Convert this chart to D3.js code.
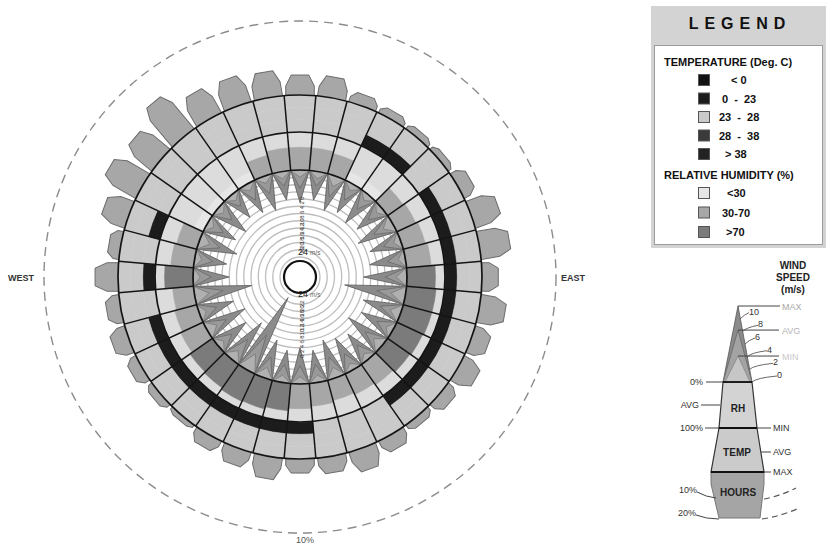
<!DOCTYPE html>
<html>
<head>
<meta charset="utf-8">
<script src="https://cdn.jsdelivr.net/npm/d3@7"></script>
<style>
  body { margin: 0; background: #fff; }
  svg text { font-family: "Liberation Sans", Arial, sans-serif; }
</style>
</head>
<body>
<div id="canvas"></div>
<script>
// one entry per 10 degree sector, clockwise from north
const directions = [0, 10, 20, 30, 40, 50, 60, 70, 80, 90, 100, 110, 120, 130, 140, 150, 160, 170,
  180, 190, 200, 210, 220, 230, 240, 250, 260, 270, 280, 290, 300, 310, 320, 330, 340, 350];
// share of hours (%)
const hours = [2.7, 2.8, 1.5, 1.1, 0.9, 0.9, 1.9, 3.8, 4.1, 2.2, 3.5, 2.4, 2.8, 1.8, 1.1, 2.0, 3.0, 2.2,
  1.9, 3.0, 2.3, 1.8, 0.7, 1.1, 1.6, 2.3, 1.9, 3.1, 1.6, 3.5, 5.1, 4.6, 6.2, 4.1, 3.9, 3.5];
// wind speed (m/s)
const windMax = [9, 8, 10, 9, 10, 9, 11, 9, 10, 12, 17, 11, 10, 12, 9, 10, 11, 9,
  10, 9, 11, 23, 13, 10, 12, 10, 16, 10, 9, 11, 9, 10, 8, 9, 10, 8];
const windAvg = [5, 4, 6, 5, 5, 5, 6, 5, 5, 6, 8, 6, 5, 6, 5, 5, 6, 5,
  5, 5, 6, 11, 7, 5, 6, 5, 8, 5, 5, 6, 5, 5, 4, 5, 5, 4];
const windMin = [2, 2, 3, 2, 2, 2, 3, 2, 2, 3, 4, 3, 2, 3, 2, 2, 3, 2,
  2, 2, 3, 5, 3, 2, 3, 2, 4, 2, 2, 3, 2, 2, 2, 2, 2, 2];
// average relative humidity (%)
const rhAvg = [60, 60, 55, 25, 25, 50, 55, 60, 65, 75, 78, 78, 75, 72, 65, 60, 55, 60,
  65, 72, 78, 80, 75, 72, 65, 60, 55, 75, 60, 55, 25, 20, 20, 25, 50, 60];
// temperature class index (into tempClasses) for min / avg / max
const tempMin = [2, 2, 2, 1, 1, 2, 1, 1, 1, 1, 1, 1, 1, 1, 1, 2, 2, 2,
  1, 1, 1, 1, 1, 1, 1, 1, 2, 1, 2, 1, 2, 2, 2, 2, 2, 2];
const tempAvg = [2, 2, 2, 2, 2, 2, 2, 2, 2, 2, 2, 2, 2, 2, 2, 2, 2, 2,
  2, 2, 2, 2, 2, 2, 2, 2, 2, 2, 2, 2, 2, 2, 2, 2, 2, 2];
const tempMax = [2, 2, 2, 2, 2, 2, 2, 2, 2, 2, 2, 2, 2, 2, 2, 2, 2, 2,
  2, 2, 2, 2, 2, 2, 2, 2, 2, 2, 2, 2, 2, 2, 2, 2, 2, 2];
const tempClasses = ["< 0", "0  -  23", "23  -  28", "28  -  38", "> 38"];
const rhClasses = ["<30", "30-70", ">70"];
const speedTicks = [0, 2, 4, 6, 8, 10, 12, 14, 16, 18, 20, 22, 24];

const tempColors = ["#121212", "#1c1c1c", "#cacaca", "#3a3a3a", "#222222"];
const rhColors = ["#e6e6e6", "#a7a7a7", "#7b7b7b"];
const rhClass = (v) => (v < 30 ? 0 : v <= 70 ? 1 : 2);

const width = 826;
const height = 546;
const cx = 300;
const cy = 277;

const svg = d3.select("#canvas").append("svg").attr("width", width).attr("height", height);
const g = svg.append("g").attr("transform", `translate(${cx}, ${cy})`);

const angle = d3.scaleLinear().domain([0, 360]).range([0, 2 * Math.PI]);
const half = 5;
const speedR = d3.scaleLinear().domain([0, 24]).range([107, 20]);
const labelR = d3.scaleLinear().domain([0, 24]).range([79, 22]);
const rhR = d3.scaleLinear().domain([0, 100]).range([107, 145]);
const tempR = d3.scaleBand().domain(["min", "avg", "max"]).range([145, 182]);
const hoursR = d3.scaleLinear().domain([0, 10]).range([182, 256]);

const pt = (deg, r) => {
  const a = angle(deg);
  return [r * Math.sin(a), -r * Math.cos(a)];
};
const arc = d3.arc();

// 10% circle
g.append("circle")
  .attr("r", hoursR(10))
  .attr("fill", "none")
  .attr("stroke", "#8c8c8c")
  .attr("stroke-width", 1.4)
  .attr("stroke-dasharray", "9,6");

// hours bars
const r0 = hoursR(0);
const hw = r0 * Math.sin(angle(half)) * 0.9;
directions.forEach((d, i) => {
  const rt = hoursR(hours[i]);
  const ch = Math.min(12, (rt - r0) * 0.55);
  const pts = [[-hw, -(r0 - 4)], [-hw, -(rt - ch)], [-hw * 0.62, -rt], [hw * 0.62, -rt], [hw, -(rt - ch)], [hw, -(r0 - 4)]];
  g.append("polygon")
    .attr("transform", `rotate(${d})`)
    .attr("points", pts.map((p) => p.join(",")).join(" "))
    .attr("fill", "#a7a7a7")
    .attr("stroke", "#6c6c6c")
    .attr("stroke-width", 1);
});

// temperature band
const tempSets = { min: tempMin, avg: tempAvg, max: tempMax };
directions.forEach((d, i) => {
  tempR.domain().forEach((k) => {
    g.append("path")
      .attr("d", arc({
        innerRadius: tempR(k), outerRadius: tempR(k) + tempR.bandwidth(),
        startAngle: angle(d - half), endAngle: angle(d + half)
      }))
      .attr("fill", tempColors[tempSets[k][i]])
      .attr("stroke", tempColors[tempSets[k][i]])
      .attr("stroke-width", 0.5);
  });
});

// relative humidity band
directions.forEach((d, i) => {
  g.append("path")
    .attr("d", arc({ innerRadius: rhR(0), outerRadius: rhR(100), startAngle: angle(d - half), endAngle: angle(d + half) }))
    .attr("fill", "#dcdcdc").attr("stroke", "#dcdcdc").attr("stroke-width", 0.5);
  g.append("path")
    .attr("d", arc({ innerRadius: rhR(0), outerRadius: rhR(rhAvg[i]), startAngle: angle(d - half), endAngle: angle(d + half) }))
    .attr("fill", rhColors[rhClass(rhAvg[i])]).attr("stroke", rhColors[rhClass(rhAvg[i])]).attr("stroke-width", 0.5);
});

// wind speed area
g.append("circle").attr("r", speedR(0)).attr("fill", "#fff");
g.selectAll(".ring")
  .data(speedTicks.filter((s) => s > 0))
  .enter()
  .append("circle")
  .attr("class", "ring")
  .attr("r", (s) => speedR(s))
  .attr("fill", "none")
  .attr("stroke", "#bdbdbd")
  .attr("stroke-width", 1.3);

const spike = (d, s) => [pt(d - half, speedR(0)), pt(d, speedR(s)), pt(d + half, speedR(0))]
  .map((p) => p.join(",")).join(" ");
const spikeLayers = [
  { values: windMax, fill: "#8b8b8b", stroke: "#5a5a5a" },
  { values: windAvg, fill: "#999999", stroke: "#6a6a6a" },
  { values: windMin, fill: "#b0b0b0", stroke: "#7a7a7a" }
];
spikeLayers.forEach((layer) => {
  directions.forEach((d, i) => {
    g.append("polygon")
      .attr("points", spike(d, layer.values[i]))
      .attr("fill", layer.fill)
      .attr("stroke", layer.stroke)
      .attr("stroke-width", 0.8)
      .attr("stroke-linejoin", "round");
  });
});

// black grid
[rhR(0), rhR(100), tempR.range()[1]].forEach((r) => {
  g.append("circle").attr("r", r).attr("fill", "none").attr("stroke", "#141414").attr("stroke-width", 1.7);
});
directions.forEach((d) => {
  const a = pt(d + half, rhR(0));
  const b = pt(d + half, tempR.range()[1]);
  g.append("line")
    .attr("x1", a[0]).attr("y1", a[1]).attr("x2", b[0]).attr("y2", b[1])
    .attr("stroke", "#141414").attr("stroke-width", 1.5);
});

// hub
g.append("circle").attr("r", 16).attr("fill", "#fff").attr("stroke", "#111").attr("stroke-width", 2.2);

// speed labels, up and down
[-1, 1].forEach((dir) => {
  speedTicks.forEach((s) => {
    if (s === 24) {
      const t = g.append("text")
        .attr("x", -2)
        .attr("y", dir < 0 ? -labelR(s) : labelR(s) - 2)
        .attr("font-size", 9)
        .attr("fill", "#222");
      t.append("tspan").text("24");
      t.append("tspan").attr("font-size", 6.5).attr("fill", "#666").attr("dx", 2).text("m/s");
    } else {
      g.append("text")
        .attr("transform", `translate(4, ${dir * labelR(s)}) rotate(-90)`)
        .attr("text-anchor", "middle")
        .attr("font-size", 6)
        .attr("fill", "#333")
        .text(s);
    }
  });
});

svg.append("text").attr("x", 8).attr("y", 281).attr("font-size", 9).attr("font-weight", "bold").attr("fill", "#333").text("WEST");
svg.append("text").attr("x", 561).attr("y", 281).attr("font-size", 9).attr("font-weight", "bold").attr("fill", "#333").text("EAST");
svg.append("text").attr("x", 305).attr("y", 543).attr("text-anchor", "middle").attr("font-size", 9).attr("fill", "#555").text("10%");

// legend box
const lg = svg.append("g");
lg.append("rect").attr("x", 651).attr("y", 6).attr("width", 175).attr("height", 242).attr("fill", "#d3d3d3");
lg.append("rect").attr("x", 654.5).attr("y", 45.5).attr("width", 168).attr("height", 199).attr("fill", "#fff").attr("stroke", "#9c9c9c");
lg.append("text").attr("x", 740).attr("y", 29).attr("text-anchor", "middle").attr("font-size", 16)
  .attr("font-weight", "bold").attr("letter-spacing", 6).attr("fill", "#111").text("LEGEND");
lg.append("text").attr("x", 664).attr("y", 66).attr("font-size", 11).attr("font-weight", "bold").attr("fill", "#111").text("TEMPERATURE (Deg. C)");
const tempRow = d3.scaleLinear().domain([0, 4]).range([80, 154]);
const tempLabelX = [731, 722, 719, 719, 725];
tempClasses.forEach((c, i) => {
  lg.append("rect").attr("x", 698.5).attr("y", tempRow(i) - 5.5).attr("width", 11).attr("height", 11)
    .attr("fill", tempColors[i]).attr("stroke", "#555");
  lg.append("text").attr("x", tempLabelX[i]).attr("y", tempRow(i) + 4).attr("font-size", 11)
    .attr("font-weight", "bold").attr("fill", "#111").attr("xml:space", "preserve").text(c);
});
lg.append("text").attr("x", 664).attr("y", 179).attr("font-size", 11).attr("font-weight", "bold").attr("fill", "#111").text("RELATIVE HUMIDITY (%)");
const rhRow = d3.scaleLinear().domain([0, 2]).range([193, 232]);
const rhLabelX = [727, 722, 726];
rhClasses.forEach((c, i) => {
  lg.append("rect").attr("x", 698.5).attr("y", rhRow(i) - 5.5).attr("width", 11).attr("height", 11)
    .attr("fill", rhColors[i]).attr("stroke", "#555");
  lg.append("text").attr("x", rhLabelX[i]).attr("y", rhRow(i) + 4).attr("font-size", 11)
    .attr("font-weight", "bold").attr("fill", "#111").text(c);
});

// key glyph
const kg = svg.append("g");
["WIND", "SPEED", "(m/s)"].forEach((t, i) => {
  kg.append("text").attr("x", 793).attr("y", 269 + i * 12).attr("text-anchor", "middle").attr("font-size", 10)
    .attr("font-weight", "bold").attr("fill", "#222").text(t);
});
const gy = d3.scaleLinear().domain([0, 12]).range([382, 306]);
const tipX = 738, baseL = 723, baseR = 752;
const poly = (pts, fill, stroke, sw) => kg.append("polygon")
  .attr("points", pts.map((p) => p.join(",")).join(" "))
  .attr("fill", fill).attr("stroke", stroke).attr("stroke-width", sw);
poly([[711, 472], [764, 472], [764, 484], [760, 518], [719, 518], [711, 484]], "#a5a5a5", "#777", 1);
poly([[719, 428], [757, 428], [764, 472], [711, 472]], "#cbcbcb", "#333", 1.2);
poly([[723, 382], [752, 382], [757, 428], [719, 428]], "#d3d3d3", "#333", 1.2);
poly([[baseL, 382], [tipX, gy(12)], [baseR, 382]], "#8b8b8b", "#555", 0.8);
poly([[baseL, 382], [tipX, gy(8.2)], [baseR, 382]], "#a3a3a3", "#666", 0.8);
poly([[baseL + 2, 382], [tipX, gy(4.1)], [baseR - 2, 382]], "#c6c6c6", "#888", 0.8);
[[382, 1.8], [428, 1.8], [472, 1.8]].forEach(([y, w]) => {
  const x0 = y === 382 ? 723 : y === 428 ? 719 : 711;
  const x1 = y === 382 ? 752 : y === 428 ? 757 : 764;
  kg.append("line").attr("x1", x0).attr("x2", x1).attr("y1", y).attr("y2", y).attr("stroke", "#111").attr("stroke-width", w);
});
const edgeX = (y) => tipX + (baseR - tipX) * (y - gy(12)) / (382 - gy(12));
[10, 8, 6, 4, 2, 0].forEach((s, i) => {
  const y = gy(s);
  const x = edgeX(y);
  const lx = [749, 758, 755, 767, 773, 777][i];
  kg.append("path").attr("d", `M${x},${y} Q${x + 4},${y - 4} ${lx},${y - 6}`).attr("fill", "none").attr("stroke", "#444").attr("stroke-width", 0.8);
  kg.append("text").attr("x", lx).attr("y", y - 4).attr("font-size", 9).attr("fill", "#333").text(s);
});
const keyLine = (x1, y1, x2, y2) => kg.append("line").attr("x1", x1).attr("y1", y1).attr("x2", x2).attr("y2", y2).attr("stroke", "#444").attr("stroke-width", 1);
const keyText = (x, y, t, anchor, fill, bold) => kg.append("text").attr("x", x).attr("y", y).attr("text-anchor", anchor)
  .attr("font-size", bold ? 10 : 9).attr("font-weight", bold ? "bold" : "normal").attr("fill", fill).text(t);
keyLine(tipX, gy(12), 780, gy(12)); keyText(782, gy(12) + 4, "MAX", "start", "#a8a8a8");
keyLine(tipX, gy(8.2), 779, gy(8.2)); keyText(782, gy(8.2) + 4, "AVG", "start", "#b4b4b4");
keyLine(tipX, gy(4.1), 779, gy(4.1)); keyText(782, gy(4.1) + 4, "MIN", "start", "#c8c8c8");
keyLine(706, 382, 723, 382); keyText(703, 385, "0%", "end", "#333");
keyLine(701, 405, 720, 405); keyText(699, 408, "AVG", "end", "#333");
keyLine(705, 428, 719, 428); keyText(703, 431, "100%", "end", "#333");
keyLine(757, 428, 771, 428); keyText(773, 431, "MIN", "start", "#333");
keyLine(761, 452, 771, 452); keyText(773, 455, "AVG", "start", "#333");
keyLine(764, 472, 771, 472); keyText(773, 475, "MAX", "start", "#333");
keyText(738, 412, "RH", "middle", "#222", true);
keyText(737, 456, "TEMP", "middle", "#222", true);
keyText(738, 496, "HOURS", "middle", "#222", true);
keyText(697, 493, "10%", "end", "#333");
keyText(696, 516, "20%", "end", "#333");
const dashed = (d) => kg.append("path").attr("d", d).attr("fill", "none").attr("stroke", "#555").attr("stroke-width", 1.2).attr("stroke-dasharray", "6,4");
kg.append("path").attr("d", "M697,492 Q706,497 716,498").attr("fill", "none").attr("stroke", "#444").attr("stroke-width", 1);
kg.append("path").attr("d", "M696,515 Q706,519 719,519").attr("fill", "none").attr("stroke", "#444").attr("stroke-width", 1);
dashed("M764,499 Q780,496 796,488");
dashed("M762,519 Q782,516 799,508");
</script>
</body>
</html>
